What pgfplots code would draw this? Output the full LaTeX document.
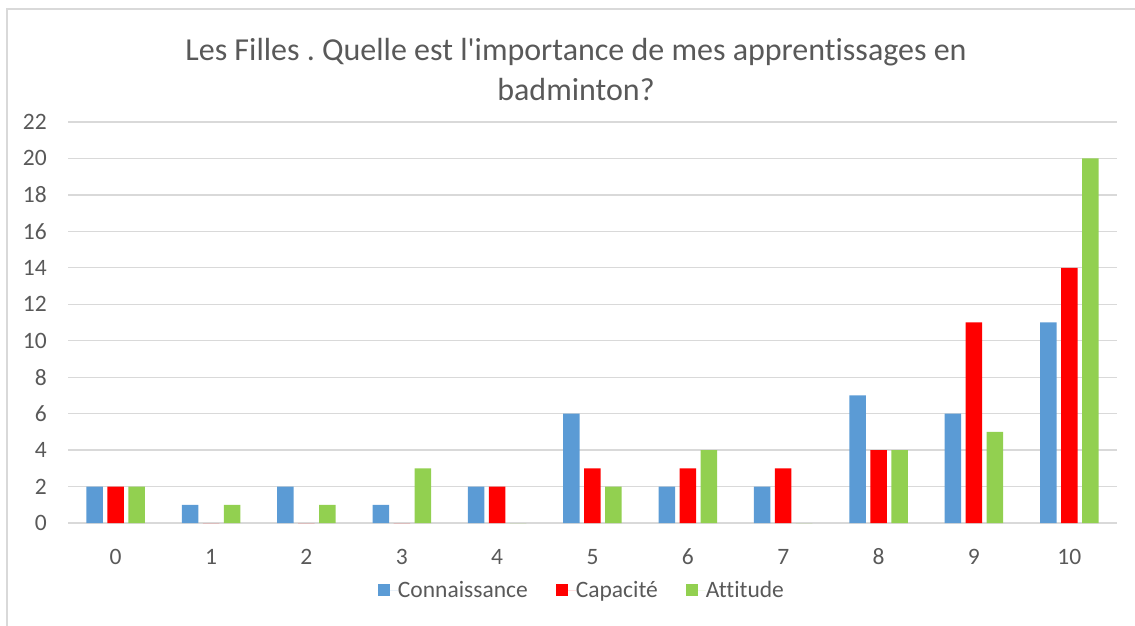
\documentclass[border=0pt]{standalone}
\usepackage{pgfplots}
\pgfplotsset{compat=1.18}
\usepackage{fontspec}
\setmainfont[Ligatures={NoCommon}]{Carlito}
\frenchspacing
\definecolor{cBlue}{HTML}{5B9BD5}
\definecolor{cRed}{HTML}{FF0000}
\definecolor{cGreen}{HTML}{92D050}
\definecolor{cGrid}{HTML}{D9D9D9}
\definecolor{cText}{HTML}{595959}
\definecolor{cBorder}{HTML}{D9D9D9}
\begin{document}
\begin{tikzpicture}
\useasboundingbox (-68bp,-103bp) rectangle (1067bp,523bp);
\draw[cBorder, line width=2bp] (-61bp,-103bp) -- (-61bp,514bp) -- (1067bp,514bp);
\begin{axis}[
  at={(0,0)}, anchor=south west,
  scale only axis, width=1049bp, height=401bp,
  xmin=-0.5, xmax=10.5, ymin=0, ymax=22,
  ybar=4.5bp, bar width=16.5bp,
  xtick={0,...,10}, ytick={0,2,...,22},
  axis line style={draw=none},
  major tick length=0pt,
  ymajorgrids, grid style={cGrid, line width=1.2bp},
  tick label style={font=\fontsize{23.5bp}{28bp}\selectfont, text=cText},
  /pgf/number format/assume math mode=true,
  yticklabel style={anchor=east, inner sep=0pt, xshift=-21bp},
  xticklabel style={anchor=center, inner sep=0pt, yshift=-34bp},
  legend columns=3,
  legend style={at={(0.489,0)}, anchor=center, yshift=-67bp, draw=none, fill=none,
    font=\fontsize{23.5bp}{28bp}\selectfont, text=cText, inner sep=0pt,
    nodes={inner sep=0pt},
    /tikz/every even column/.append style={column sep=28bp}},
  legend image code/.code={\fill[#1] (0bp,-6bp) rectangle (12bp,6bp); \path (0bp,0bp) -- (20bp,0bp);},
]
\addplot[fill=cBlue, draw=none] coordinates {(0,2) (1,1) (2,2) (3,1) (4,2) (5,6) (6,2) (7,2) (8,7) (9,6) (10,11)};
\addplot[fill=cRed, draw=none] coordinates {(0,2) (1,0) (2,0) (3,0) (4,2) (5,3) (6,3) (7,3) (8,4) (9,11) (10,14)};
\addplot[fill=cGreen, draw=none] coordinates {(0,2) (1,1) (2,1) (3,3) (4,0) (5,2) (6,4) (7,0) (8,4) (9,5) (10,20)};
\legend{Connaissance, Capacité, Attitude}
\end{axis}
\node[align=center, text=cText, font=\fontsize{32bp}{40bp}\selectfont, anchor=center] at (508bp,453bp) {Les Filles . Quelle est l\textquotesingle importance de mes apprentissages en\\badminton?};
\end{tikzpicture}
\end{document}
